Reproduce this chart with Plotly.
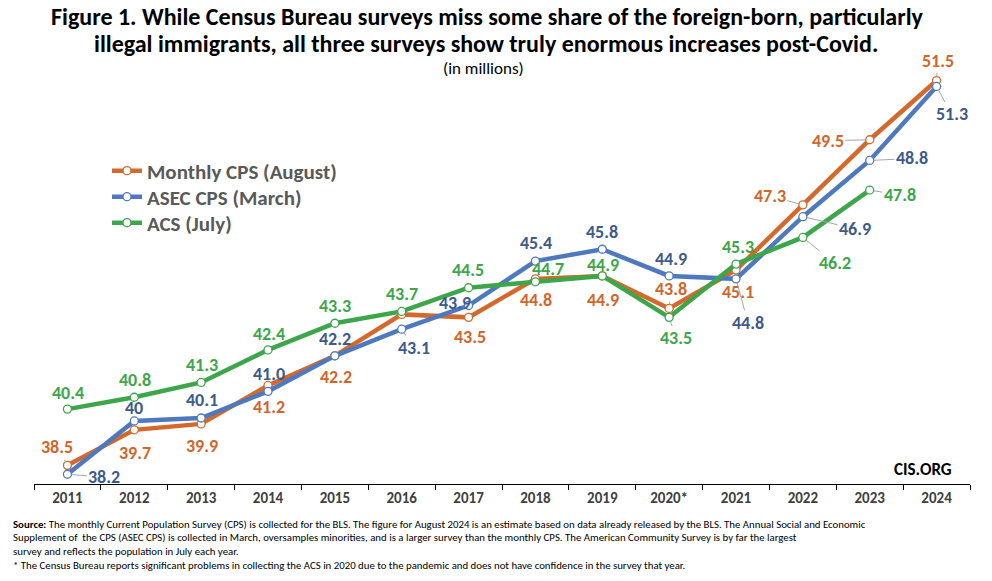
import plotly.graph_objects as go

years = ["2011", "2012", "2013", "2014", "2015", "2016", "2017", "2018", "2019", "2020*", "2021", "2022", "2023", "2024"]
monthly_cps = [38.5, 39.7, 39.9, 41.2, 42.2, 43.6, 43.5, 44.8, 44.9, 43.8, 45.1, 47.3, 49.5, 51.5]
asec_cps = [38.2, 40.0, 40.1, 41.0, 42.2, 43.1, 43.9, 45.4, 45.8, 44.9, 44.8, 46.9, 48.8, 51.3]
acs = [40.4, 40.8, 41.3, 42.4, 43.3, 43.7, 44.5, 44.7, 44.9, 43.5, 45.3, 46.2, 47.8, None]

monthly_labels = ["38.5", "39.7", "39.9", "41.2", "42.2", "", "43.5", "44.8", "44.9", "43.8", "45.1", "47.3", "49.5", "51.5"]
asec_labels = ["38.2", "40", "40.1", "41.0", "42.2", "43.1", "43.9", "45.4", "45.8", "44.9", "44.8", "46.9", "48.8", "51.3"]
acs_labels = ["40.4", "40.8", "41.3", "42.4", "43.3", "43.7", "44.5", "44.7", "44.9", "43.5", "45.3", "46.2", "47.8", ""]

# label offsets in pixels (dx, dy; dy positive = down) and whether a leader line is drawn
monthly_off = [(-10, -18, True), (1, 23, False), (1, 22, False), (1, 22, False), (1, 21, False), (0, 0, False),
               (1, 20, False), (1, 21, False), (1, 24, False), (2, -19, True), (2, 22, False),
               (-33, -9, True), (-42, 1, True), (1, -20, True)]
asec_off = [(37, 3, True), (0, -13, False), (1, -18, False), (1, -17, False), (0, -17, False), (12, 19, True),
            (-14, -3, False), (1, -18, False), (0, -17, False), (2, -17, False), (12, 44, True),
            (52, 12, True), (42, -2, True), (15, 28, True)]
acs_off = [(1, -16, False), (1, -17, False), (1, -17, False), (1, -16, False), (0, -17, False), (0, -17, False),
           (-1, -18, False), (13, -13, False), (1, -11, False), (7, 21, True), (2, -17, False),
           (32, 26, True), (30, 5, True), (0, 0, False)]

FONT = "Carlito, 'Liberation Sans Narrow', 'Arial Narrow', 'Open Sans', sans-serif"
ORANGE = "#D5692B"
BLUE = "#4F79BF"
GREEN = "#3DA64A"
ORANGE_T = "#D2662A"
BLUE_T = "#3D5A8C"
GREEN_T = "#3DA64A"

fig = go.Figure()
series = [
    ("Monthly CPS (August)", monthly_cps, ORANGE, "legend"),
    ("ASEC CPS (March)", asec_cps, BLUE, "legend2"),
    ("ACS (July)", acs, GREEN, "legend3"),
]
for name, vals, col, lg in series:
    fig.add_trace(go.Scatter(
        x=years, y=vals, name=name, mode="lines+markers", legend=lg,
        line=dict(color=col, width=4.5),
        marker=dict(symbol="circle", size=8, color="white", line=dict(color=col, width=1.3)),
        connectgaps=False,
    ))

annotations = []
for vals, labels, offs, tcol in [(monthly_cps, monthly_labels, monthly_off, ORANGE_T),
                                 (asec_cps, asec_labels, asec_off, BLUE_T),
                                 (acs, acs_labels, acs_off, GREEN_T)]:
    for i, (v, lab, (dx, dy, lead)) in enumerate(zip(vals, labels, offs)):
        if v is None or lab == "":
            continue
        annotations.append(dict(
            x=i, y=v, xref="x", yref="y", text=lab,
            showarrow=True, ax=dx, ay=dy, arrowhead=0, arrowwidth=1,
            arrowcolor="#A6A6A6" if lead else "rgba(0,0,0,0)", standoff=4,
            font=dict(family=FONT, size=18, color=tcol, weight="bold"),
        ))

title_font = dict(family=FONT, size=24, color="#000000", weight="bold")
annotations += [
    dict(text="Figure 1. While Census Bureau surveys miss some share of the foreign-born, particularly",
         xref="paper", yref="paper", x=(487 - 34) / 936, y=1 + (51 - 0) / 433, showarrow=False,
         xanchor="center", yanchor="top", font=title_font),
    dict(text="illegal immigrants, all three surveys show truly enormous increases post-Covid.",
         xref="paper", yref="paper", x=(486 - 34) / 936, y=1 + (51 - 43) / 433, showarrow=False,
         xanchor="center", yanchor="middle", font=title_font),
    dict(text="(in millions)", xref="paper", yref="paper", x=(483 - 34) / 936, y=1 + (51 - 68) / 433,
         showarrow=False, xanchor="center", yanchor="middle",
         font=dict(family=FONT, size=17, color="#000000")),
    dict(text="CIS.ORG", xref="paper", yref="paper", x=(923 - 34) / 936, y=(484 - 469) / 433,
         showarrow=False, xanchor="center", yanchor="middle",
         font=dict(family=FONT, size=17, color="#000000", weight="bold")),
]

foot = [
    "<b>Source:</b> The monthly Current Population Survey (CPS) is collected for the BLS. The figure for August 2024 is an estimate based on data already released by the BLS. The Annual Social and Economic",
    "Supplement of  the CPS (ASEC CPS) is collected in March, oversamples minorities, and is a larger survey than the monthly CPS. The American Community Survey is by far the largest",
    "survey and reflects the population in July each year.",
    "* The Census Bureau reports significant problems in collecting the ACS in 2020 due to the pandemic and does not have confidence in the survey that year.",
]
for i, line in enumerate(foot):
    annotations.append(dict(
        text=line, xref="paper", yref="paper", x=(11 - 34) / 936, y=(484 - (524 + 13.7 * i)) / 433,
        showarrow=False, xanchor="left", yanchor="middle",
        font=dict(family=FONT, size=10.8, color="#000000"),
    ))

legend_style = dict(xanchor="left", yanchor="middle", bgcolor="rgba(0,0,0,0)",
                    font=dict(family=FONT, size=21, color="#595959", weight="bold"),
                    itemwidth=30, x=(107 - 34) / 936)

fig.update_layout(
    width=992, height=581,
    margin=dict(l=34, r=22, t=51, b=97, autoexpand=False),
    paper_bgcolor="white", plot_bgcolor="white",
    showlegend=True,
    legend=dict(y=1 - (171 - 51) / 433, **legend_style),
    legend2=dict(y=1 - (197 - 51) / 433, **legend_style),
    legend3=dict(y=1 - (223 - 51) / 433, **legend_style),
    xaxis=dict(type="category", showline=True, linecolor="#000000", linewidth=1,
               ticks="outside", tickson="boundaries", ticklen=5, tickcolor="#000000",
               showgrid=False, zeroline=False, range=[-0.5, 13.5], tickangle=0,
               tickfont=dict(family=FONT, size=15, color="#404040", weight="bold")),
    yaxis=dict(range=[37.87, 37.87 + 433 / 29.6], showgrid=False, zeroline=False,
               showticklabels=False, showline=False, ticks=""),
    annotations=annotations,
)

# remove the browser's default 8px page margin so the figure fills the window exactly
fig.write_html("out.html", config={"displayModeBar": False},
               post_script="document.body.style.margin='0';")
